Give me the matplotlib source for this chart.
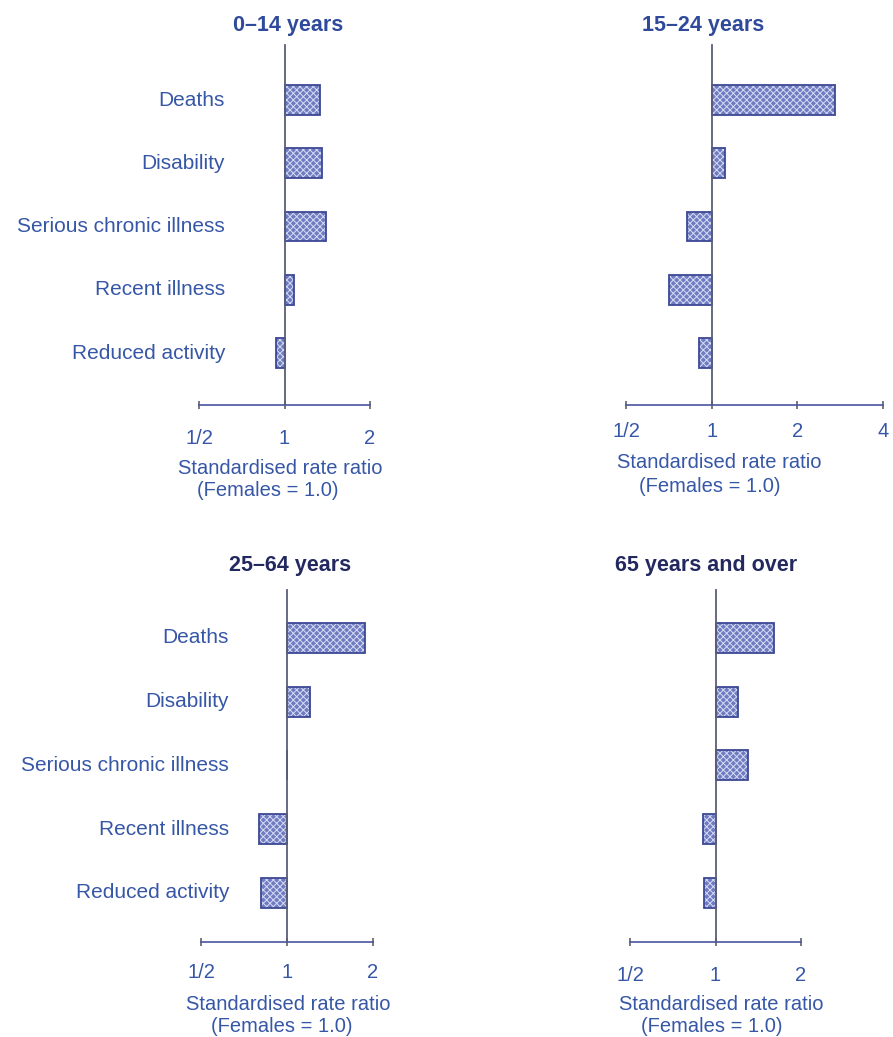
import numpy as np
import matplotlib.pyplot as plt
from matplotlib.transforms import blended_transform_factory

# -------- DATA --------
categories = ["Deaths", "Disability", "Serious chronic illness", "Recent illness", "Reduced activity"]
panel_titles = ["0\u201314 years", "15\u201324 years", "25\u201364 years", "65 years and over"]
ratios_0_14 = [1.33, 1.35, 1.40, 1.08, 0.93]
ratios_15_24 = [2.72, 1.11, 0.82, 0.71, 0.90]
ratios_25_64 = [1.87, 1.20, 1.00, 0.80, 0.81]
ratios_65_plus = [1.61, 1.20, 1.30, 0.90, 0.91]
ticks_short = [0.5, 1, 2]
ticks_long = [0.5, 1, 2, 4]
tick_labels_short = ["1/2", "1", "2"]
tick_labels_long = ["1/2", "1", "2", "4"]
# -----------------------

W, H = 893, 1037
LABEL_COL = "#3656a6"
BAR_FACE = "#6f7cc2"
BAR_HATCH = "#d8dcf2"
BAR_EDGE = "#3c4894"
plt.rcParams["font.family"] = ["Liberation Sans", "DejaVu Sans"]
plt.rcParams["hatch.linewidth"] = 0.7

fig = plt.figure(figsize=(W / 100, H / 100), dpi=100)
fig.patch.set_facecolor("white")


def px_axes(x0, x1, y0, y1):
    # pixel box (top-left origin) -> axes in figure fractions
    return fig.add_axes([x0 / W, 1 - y1 / H, (x1 - x0) / W, (y1 - y0) / H])


def draw_panel(box, ratios, xmax, ticks, tlabels, ylim, title, title_xy, title_col,
               show_labels, label_x, tick_pad, xlab_xy, fem_xy):
    ax = px_axes(*box)
    ax.set_xscale("log", base=2)
    ax.set_xlim(0.5, xmax)
    ax.set_ylim(*ylim)
    y = np.arange(len(categories))
    vals = np.array(ratios)
    widths = vals - 1.0
    ax.barh(y, widths, left=1.0, height=0.47, color=BAR_FACE, edgecolor=BAR_HATCH,
            hatch="xxxxx", linewidth=0, zorder=2)
    ax.barh(y, widths, left=1.0, height=0.47, facecolor="none", edgecolor=BAR_EDGE,
            linewidth=1.3, zorder=3)
    ax.axvline(1.0, color="#5a5e7a", linewidth=1.3, zorder=4, clip_on=False)
    for s in ["top", "right", "left"]:
        ax.spines[s].set_visible(False)
    ax.spines["bottom"].set_color("#4a55a0")
    ax.spines["bottom"].set_linewidth(1.2)
    ax.set_yticks([])
    ax.set_xticks(ticks)
    ax.set_xticklabels(tlabels)
    ax.xaxis.set_minor_locator(plt.NullLocator())
    ax.tick_params(axis="x", direction="inout", length=6, width=1.2, color="#606070",
                   labelsize=14.5, labelcolor=LABEL_COL, pad=tick_pad)
    ax.patch.set_alpha(0)
    if show_labels:
        tr = blended_transform_factory(ax.transAxes, ax.transData)
        for yi, cat in zip(y, categories):
            ax.text(label_x, yi, cat, transform=tr, ha="right", va="center",
                    fontsize=15, color=LABEL_COL, clip_on=False)
    fig.text(title_xy[0] / W, 1 - title_xy[1] / H, title, ha="center", va="center",
             fontsize=15.5, fontweight="bold", color=title_col)
    fig.text(xlab_xy[0] / W, 1 - xlab_xy[1] / H, "Standardised rate ratio", ha="center",
             va="center", fontsize=14.5, color=LABEL_COL)
    fig.text(fem_xy[0] / W, 1 - fem_xy[1] / H, "(Females = 1.0)", ha="center",
             va="center", fontsize=14.5, color=LABEL_COL)
    return ax


draw_panel((199, 370, 45, 405), ratios_0_14, 2, ticks_short, tick_labels_short,
           (4.82, -0.87), panel_titles[0], (288, 25), "#2f4a9a",
           True, (225 - 199) / (370 - 199), 14, (280, 468), (268, 491))
draw_panel((626, 883, 45, 405), ratios_15_24, 4, ticks_long, tick_labels_long,
           (4.82, -0.87), panel_titles[1], (703, 25), "#2f4a9a",
           False, 0, 9, (719, 463), (710, 486))
draw_panel((201, 373, 590, 942), ratios_25_64, 2, ticks_short, tick_labels_short,
           (4.77, -0.75), panel_titles[2], (290, 565), "#23295f",
           True, (229 - 201) / (373 - 201), 12, (288, 1004), (282, 1026))
draw_panel((630, 801, 590, 942), ratios_65_plus, 2, ticks_short, tick_labels_short,
           (4.77, -0.75), panel_titles[3], (706, 565), "#23295f",
           False, 0, 14, (721, 1005), (712, 1027))

fig.savefig("out.png", dpi=100)
